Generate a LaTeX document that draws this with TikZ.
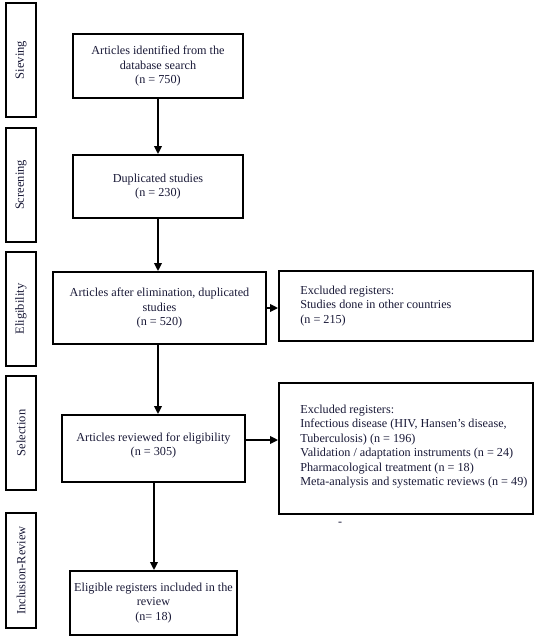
\documentclass[tikz,border=0pt]{standalone}
\usepackage{fontspec}
\setmainfont{Liberation Serif}
\usetikzlibrary{arrows.meta}
\definecolor{txt}{RGB}{25,25,55}
\begin{document}
\begin{tikzpicture}[x=1pt,y=1pt,
  box/.style={draw,line width=1.8pt,inner sep=0pt,align=center,text=txt,font=\fontsize{12.2}{14.5}\selectfont},
  stagebox/.style={draw,line width=1.8pt,minimum width=30pt,inner sep=0pt},
  stagetxt/.style={rotate=90,text=txt,font=\fontsize{12.5}{14}\selectfont},
  ltxt/.style={align=left,anchor=west,text=txt,inner sep=0pt,font=\fontsize{12.2}{14.5}\selectfont},
  arr/.style={line width=1.8pt,-{Triangle[length=8pt,width=7.5pt]}}]
\useasboundingbox (0,0) rectangle (538,-638);
% stage boxes
\node[stagebox,minimum height=114pt] (s1) at (21,-60) {};
\node[stagetxt] (s1t) at (s1.center) {Sieving};
\node[stagebox,minimum height=114pt] (s2) at (21,-185) {};
\node[stagetxt] (s2t) at (s2.center) {Screening};
\node[stagebox,minimum height=114pt] (s3) at (21,-309) {};
\node[stagetxt] (s3t) at (s3.center) {Eligibility};
\node[stagebox,minimum height=114pt] (s4) at (21,-433) {};
\node[stagetxt] (s4t) at (s4.center) {Selection};
\node[stagebox,minimum height=115pt] (s5) at (21,-570.5) {};
\node[stagetxt] (s5t) at (s5.center) {Inclusion-Review};
% main boxes
\node[box,minimum width=170pt,minimum height=64pt] (b1) at (158,-66) {Articles identified from the\\database search\\(n = 750)};
\node[box,minimum width=170pt,minimum height=63pt] (b2) at (158,-186.5) {Duplicated studies\\(n = 230)};
\node[box,minimum width=213pt,minimum height=72pt] (b3) at (159.5,-308) {Articles after elimination, duplicated\\studies\\(n = 520)};
\node[box,minimum width=183pt,minimum height=67pt] (b4) at (153.5,-448.5) {Articles reviewed for eligibility\\(n = 305)\\[-6pt]\mbox{}};
\node[box,minimum width=167pt,minimum height=64pt] (b5) at (153.5,-603) {Eligible registers included in the\\review\\(n= 18)};
% right boxes
\node[box,minimum width=254pt,minimum height=70pt] (r1) at (406,-306) {};
\node[ltxt] (r1t) at ([xshift=22pt]r1.west) {Excluded registers:\\Studies done in other countries\\(n = 215)};
\node[box,minimum width=254pt,minimum height=131pt] (r2) at (406,-448.5) {};
\node[ltxt] (r2t) at ([xshift=22pt,yshift=2pt]r2.west) {Excluded registers:\\Infectious disease (HIV, Hansen’s disease,\\Tuberculosis) (n = 196)\\Validation / adaptation instruments (n = 24)\\Pharmacological treatment (n = 18)\\Meta-analysis and systematic reviews (n = 49)};
\node[text=txt,font=\fontsize{12}{14}\selectfont] (dash) at (340,-524) {-};
% arrows
\draw[arr] (b1.south) -- (b2.north);
\draw[arr] (b2.south) -- (b2.south |- b3.north);
\draw[arr] (b2.south |- b3.south) -- (b2.south |- b4.north);
\coordinate (a5) at ([xshift=0.5pt]b4.south);
\draw[arr] (a5) -- (a5 |- b5.north);
\draw[arr] (b3.east) -- (b3.east -| r1.west);
\coordinate (a4) at ([yshift=8.5pt]b4.east);
\draw[arr] (a4) -- (a4 -| r2.west);
\end{tikzpicture}
\end{document}
